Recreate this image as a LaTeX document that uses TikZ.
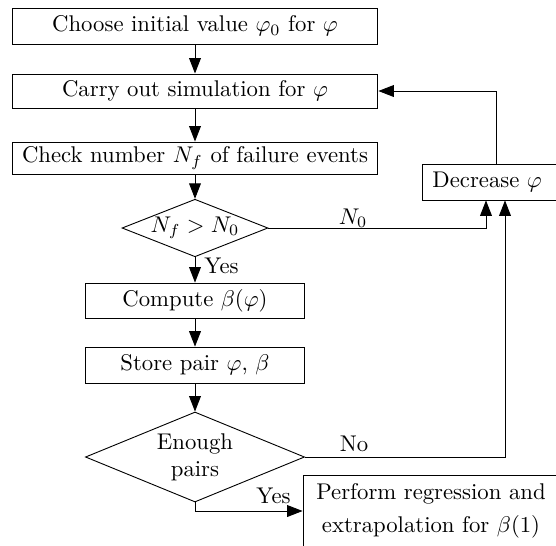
\documentclass[tikz,border=0pt]{standalone}
\usetikzlibrary{shapes.geometric,arrows.meta,calc}
\begin{document}
\begin{tikzpicture}[x=0.44pt,y={(0,-0.44pt)},
  box/.style={draw, rectangle, inner sep=0pt},
  dia/.style={draw, diamond, inner sep=0pt, shape aspect=2.5},
  arr/.style={-{Triangle[length=6.8pt,width=5.2pt]}},
  lab/.style={inner sep=0pt}]
\path[use as bounding box] (0,0) rectangle (556,545);
\clip (0,0) rectangle (556,545);
\node[box, minimum width=161pt, minimum height=15.8pt] (b1) at (195,26) {Choose initial value $\varphi_0$ for $\varphi$};
\node[box, minimum width=161pt, minimum height=15pt] (b2) at (195,91) {Carry out simulation for $\varphi$};
\node[box, minimum width=161pt, minimum height=14.1pt] (b3) at (195,158) {Check number $N_f$ of failure events};
\node[dia, minimum width=64.2pt, minimum height=23.8pt] (d1) at (195,228) {$N_f > N_0$};
\node[box, anchor=west, minimum height=15.8pt, text width=57.2pt, inner xsep=4.4pt, align=left] (dec) at (422,182) {Decrease $\varphi$};
\node[box, minimum width=96.4pt, minimum height=15.4pt] (comp) at (195,300.5) {Compute $\beta(\varphi)$};
\node[box, minimum width=96.4pt, minimum height=15.8pt] (store) at (195,365) {Store pair $\varphi$, $\beta$};
\node[dia, minimum width=96.4pt, minimum height=39.6pt, align=center] (d2) at (195,457) {Enough\\pairs};
\node[box, minimum width=112.6pt, minimum height=31.7pt, align=center] (fin) at (431,511) {Perform regression and\\[2.5pt] extrapolation for $\beta(1)$};
\draw[arr] (b1) -- (b2);
\draw[arr] (b2) -- (b3);
\draw[arr] (b3) -- (d1);
\draw[arr] (d1) -- (comp);
\draw[arr] (comp) -- (store);
\draw[arr] (store) -- (d2);
\draw[arr] (d1.east) -| ($(dec.south west)+(64,0)$);
\draw[arr] (d2.east) -| ($(dec.south west)+(83,0)$);
\draw[arr] ($(dec.north west)+(74,0)$) |- (b2.east);
\draw[arr] (d2.south) |- (fin.west);
\node[lab, anchor=base] (n0) at (353,224) {$N_0$};
\node[lab, anchor=base] (no) at (354,451) {No};
\node[lab, anchor=base west] (yes1) at (204,273) {Yes};
\node[lab, anchor=base east] (yes2) at (291,503) {Yes};
\end{tikzpicture}
\end{document}
